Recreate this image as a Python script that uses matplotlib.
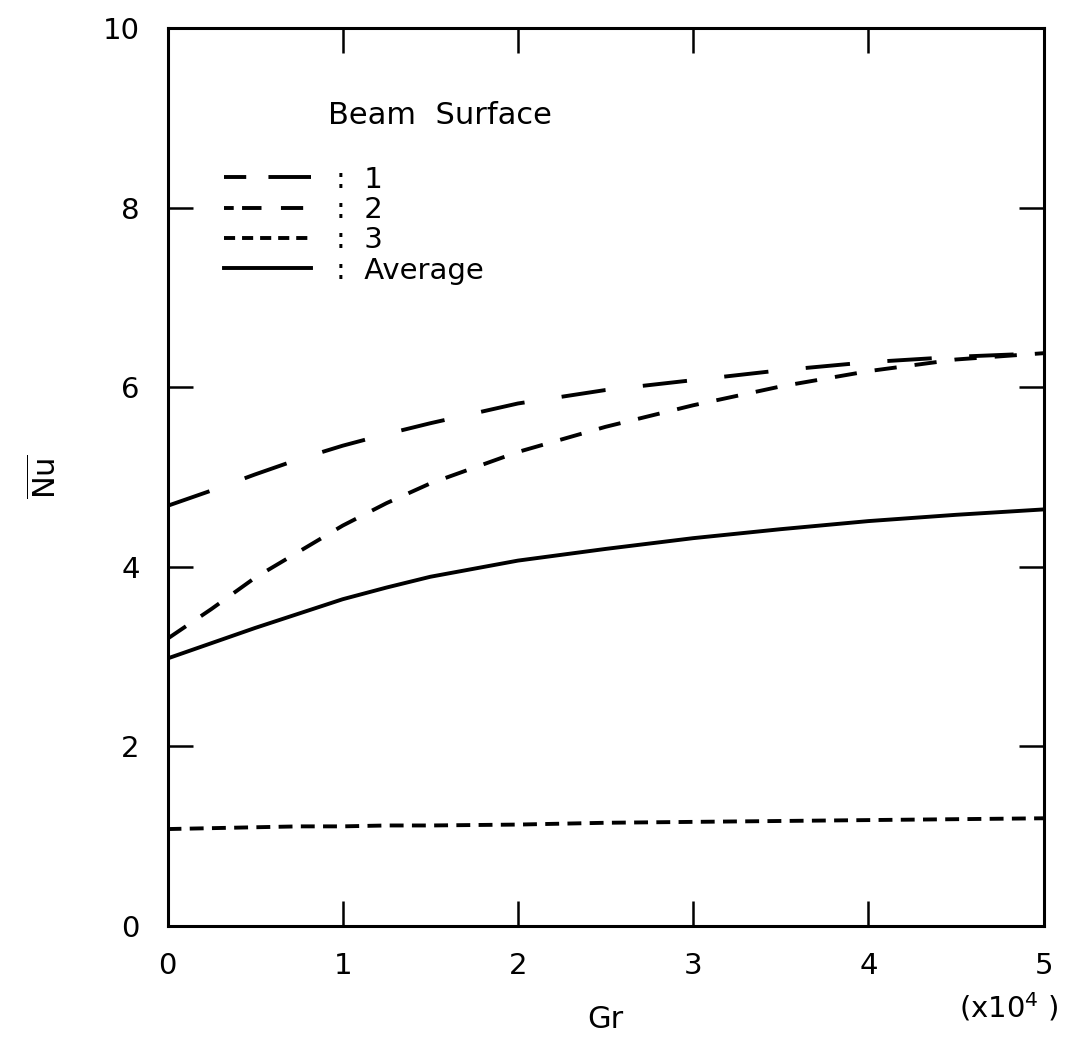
import matplotlib
matplotlib.use('Agg')
import matplotlib.pyplot as plt
from matplotlib.lines import Line2D

# Gr values (x10^4) and mean Nusselt number per beam surface
gr = [0, 0.25, 0.5, 0.75, 1, 1.25, 1.5, 2, 2.5, 3, 3.5, 4, 4.5, 5]
nu1 = [4.68, 4.85, 5.03, 5.2, 5.35, 5.48, 5.6, 5.82, 5.97, 6.08, 6.19, 6.28, 6.34, 6.38]
nu2 = [3.2, 3.53, 3.88, 4.17, 4.46, 4.71, 4.93, 5.28, 5.56, 5.8, 6.01, 6.18, 6.31, 6.38]
nu3 = [1.08, 1.09, 1.1, 1.11, 1.11, 1.12, 1.12, 1.13, 1.15, 1.16, 1.17, 1.18, 1.19, 1.2]
nuAvg = [2.98, 3.15, 3.32, 3.48, 3.64, 3.77, 3.89, 4.07, 4.2, 4.32, 4.42, 4.51, 4.58, 4.64]

labels = [':  1', ':  2', ':  3', ':  Average']
xticks = [0, 1, 2, 3, 4, 5]
yticks = [0, 2, 4, 6, 8, 10]

plt.rcParams['lines.scale_dashes'] = False
plt.rcParams['font.family'] = ['DejaVu Sans']

fig = plt.figure(figsize=(10.67, 10.44), dpi=100)
ax = fig.add_axes([0.157, 0.113, 0.821, 0.860])

lw = 2.8
ax.plot(gr, nu1, color='black', lw=lw, linestyle=(0, (32, 27)))
ax.plot(gr, nu2, color='black', lw=lw, linestyle=(0, (16, 13)))
ax.plot(gr, nu3, color='black', lw=lw, linestyle=(0, (10, 6)))
ax.plot(gr, nuAvg, color='black', lw=lw, linestyle='-')

ax.set_xlim(0, 5)
ax.set_ylim(0, 10)
ax.set_xticks(xticks)
ax.set_yticks(yticks)
ax.set_xticklabels([str(t) for t in xticks])
ax.set_yticklabels([str(t) for t in yticks])

for s in ax.spines.values():
    s.set_linewidth(2.2)
ax.tick_params(direction='in', length=18, width=1.8, labelsize=21,
               top=True, right=True)
ax.tick_params(axis='x', pad=19)
ax.tick_params(axis='y', pad=20)
# no tick marks at the ends
for t in ax.xaxis.get_major_ticks()[::5] + ax.yaxis.get_major_ticks()[::5]:
    t.tick1line.set_visible(False)
    t.tick2line.set_visible(False)

ax.set_xlabel('Gr', fontsize=22, labelpad=18)
ax.set_ylabel(r'$\overline{\mathrm{Nu}}$', fontsize=22, labelpad=29)
ax.text(1.018, -0.09, r'(x10$^4$ )', transform=ax.transAxes,
        fontsize=21, ha='right', va='center')

ax.text(0.183, 0.903, 'Beam  Surface', transform=ax.transAxes,
        fontsize=22, ha='left', va='center')

# legend samples, dash patterns shortened to fit the key like the original
handles = [Line2D([], [], color='black', lw=lw, linestyle=(0, (16, 16, 34, 10))),
           Line2D([], [], color='black', lw=lw, linestyle=(0, (7, 6, 14, 14, 16, 10))),
           Line2D([], [], color='black', lw=lw, linestyle=(0, (8, 5))),
           Line2D([], [], color='black', lw=lw, linestyle='-')]
ax.legend(handles, labels, loc='upper left',
          bbox_to_anchor=(0.064, 0.847), frameon=False, fontsize=21,
          handlelength=3.0, handletextpad=0.86, labelspacing=0.08,
          borderpad=0, borderaxespad=0)

fig.savefig('out.png', dpi=100)
